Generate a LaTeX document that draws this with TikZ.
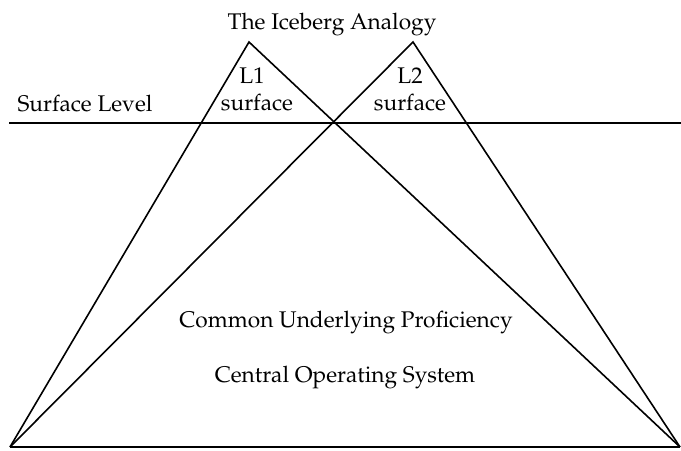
\documentclass[tikz,border=0pt]{standalone}
\usepackage[T1]{fontenc}
\usepackage{mathpazo}
\usetikzlibrary{positioning}

\begin{document}
\begin{tikzpicture}[x=0.75pt, y=-0.75pt,
    side/.style={line width=1.2pt, line join=miter},
    level/.style={line width=2pt},
    lbl/.style={font=\fontsize{17}{20}\selectfont, inner sep=0pt, anchor=base}]
    \useasboundingbox (0,0) rectangle (681,450);
    % corners of the two icebergs
    \coordinate (L1top) at (249,42);
    \coordinate (L2top) at (413,42);
    \coordinate (baseL) at (10,447);
    \coordinate (baseR) at (680,447);
    \coordinate (surfL) at (9,123);
    \coordinate (surfR) at (681,123);
    \draw[side] (baseL) -- (L1top) -- (baseR);
    \draw[side] (baseL) -- (L2top) -- (baseR);
    \draw[level] (baseL) -- (baseR);
    \draw[level] (surfL) -- (surfR);
    % labels
    \node[lbl] (title) at (332,29) {The Iceberg Analogy};
    \node[lbl] (l1) at (252,83) {L1};
    \node[lbl] (l1s) at (257,110) {surface};
    \node[lbl] (l2) at (410,83) {L2};
    \node[lbl] (l2s) at (410,110) {surface};
    \node[lbl] (level) at (85,111) {Surface Level};
    \node[lbl] (cup) at (346,327) {Common Underlying Proficiency};
    \node[lbl] (cos) at (345,382) {Central Operating System};
\end{tikzpicture}
\end{document}
